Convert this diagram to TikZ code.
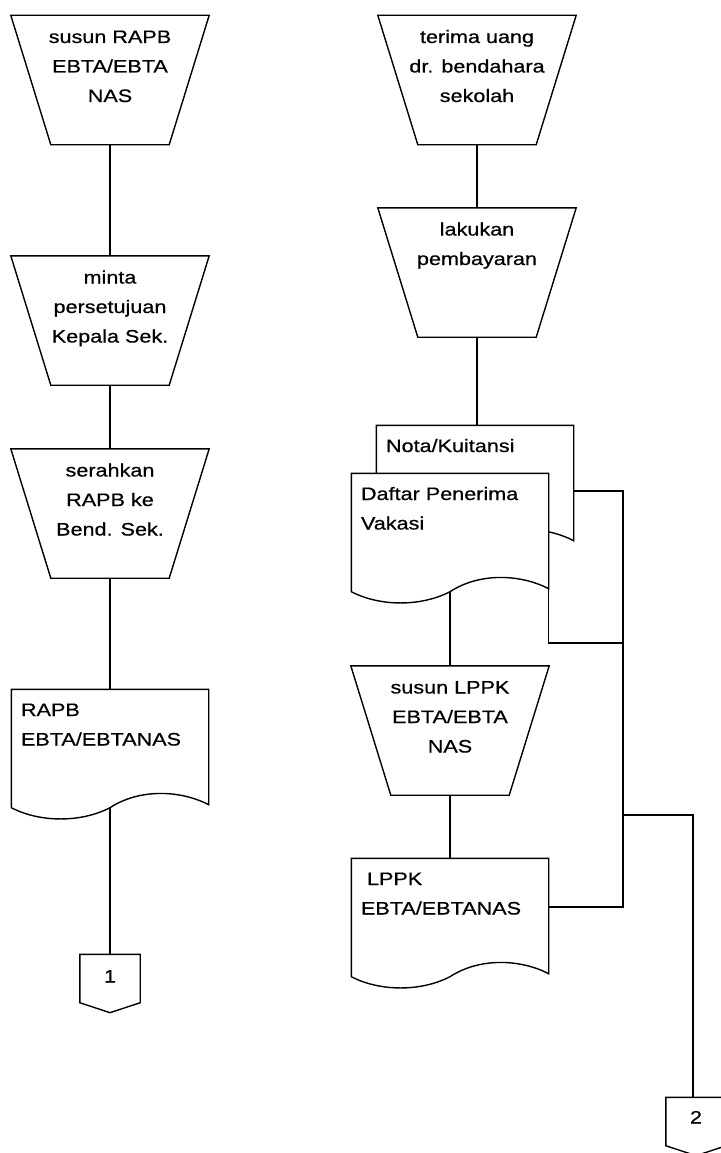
\documentclass[tikz,border=0pt]{standalone}
\usepackage{fontspec}
\newfontfamily\flowfont[FakeStretch=1.2,FakeBold=0.6]{Liberation Sans}
\usetikzlibrary{calc,backgrounds}

% text blocks: centred in process shapes, left aligned in documents
\newcommand\proctext[1]{\parbox[c][128pt][t]{197pt}{\centering\rule{0pt}{27pt}#1}}
\newcommand\doctext[1]{\parbox[c][117pt][t]{196pt}{\raggedright\leftskip=9pt\rule{0pt}{26pt}#1}}

\begin{document}
\begin{tikzpicture}[x=1pt,y=-1pt,line width=1.4pt,
  outline/.style={draw,line width=1.4pt,line join=miter},
  flowfontsize/.style={font=\flowfont\fontsize{18}{29.5}\selectfont},
  proc/.style={inner sep=0pt,flowfontsize},
  docnode/.style={inner sep=0pt,flowfontsize},
  offpage/.style={inner sep=0pt,minimum width=59pt,minimum height=57pt,flowfontsize}]
\useasboundingbox (0,0) rectangle (720,1153);

% ---- left column
\node[proc] (t1) at (110,80) {\proctext{susun RAPB\\EBTA/EBTA\\NAS}};
\node[proc] (t2) at (110,320.5) {\proctext{minta\\persetujuan\\Kepala Sek.}};
\node[proc] (t3) at (110,513.5) {\proctext{serahkan\\RAPB ke\\Bend. Sek.}};
\node[docnode] (d1) at (110,748.5) {\doctext{RAPB\\EBTA/EBTANAS}};
\node[offpage] (c1) at (110,983.5) {\raisebox{1pt}[0pt][0pt]{1}};

% ---- right column
\node[proc] (t4) at (477,80) {\proctext{terima uang\\dr. bendahara\\sekolah}};
\node[proc] (t5) at (477,272.5) {\proctext{lakukan\\pembayaran}};
\node[docnode] (dN) at (475,484.5) {\doctext{Nota/Kuitansi}};
\node[docnode] (dD) at (450,532.5) {\doctext{Daftar Penerima\\Vakasi}};
\node[proc] (t6) at (450,730.5) {\proctext{susun LPPK\\EBTA/EBTA\\NAS}};
\node[docnode] (dL) at (450,917.5) {\doctext{\hspace*{6pt}LPPK\\EBTA/EBTANAS}};
\node[offpage] (c2) at (696,1126.5) {\raisebox{3pt}[0pt][0pt]{2}};

% bends of the filing lines
\coordinate (bus) at (623,643);
\coordinate (split) at (623,815);

\begin{scope}[on background layer]
  \fill[white] (0,0) rectangle (720,1153);

  % process shapes (manual operation trapezia)
  \foreach \n in {t1,t2,t3,t4,t5,t6}
    \path[outline] (\n.north west) -- (\n.north east) -- ($(\n.south east)+(-40,0)$)
          -- ($(\n.south west)+(40,0)$) -- cycle;

  % document shapes with wavy lower edge
  \foreach \d in {d1,dN,dD,dL}
    \path[outline,fill=white] (\d.south west) -- (\d.north west) -- (\d.north east)
          -- ($(\d.south east)+(0,-3)$) .. controls +(-29,-15) and +(29,-19) .. (\d.south)
          .. controls +(-29,15) and +(29,15) .. (\d.south west) -- cycle;

  % off-page connectors
  \foreach \c in {c1,c2}
    \path[outline] (\c.north west) -- (\c.north east) -- ($(\c.south east)+(0,-10)$)
          -- (\c.south) -- ($(\c.south west)+(0,-10)$) -- cycle;
\end{scope}

% ---- flow lines, left
\draw (t1.south) -- (t2.north);
\draw (t2.south) -- (t3.north);
\draw (t3.south) -- (d1.north);
\draw (d1.south) -- (c1.north);

% ---- flow lines, right
\draw (t4.south) -- (t5.north);
\draw (t5.south) -- (t5.south |- dN.north);
\draw (dD.south) -- (t6.north);
\draw (t6.south) -- (dL.north);
\draw ([yshift=-6.5pt]dN.east) -| (bus) |- ([yshift=10.5pt]dL.east);
\draw ($(dD.south east)+(0,-3)$) |- (bus);
\draw (split) -| ([xshift=-3pt]c2.north);
\end{tikzpicture}
\end{document}
